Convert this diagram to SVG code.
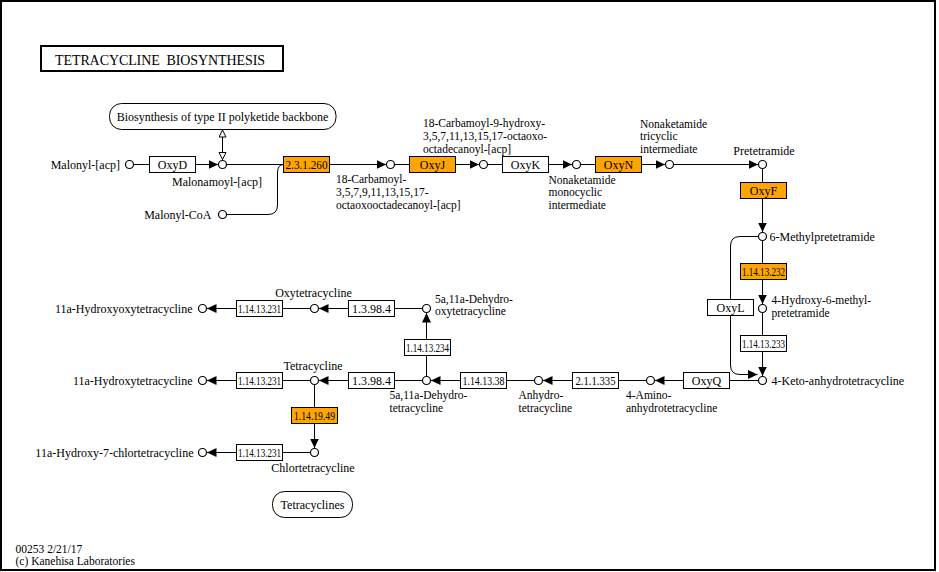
<svg xmlns="http://www.w3.org/2000/svg" width="939" height="572" viewBox="0 0 939 572">
<style>
text{font-family:"Liberation Serif","Times New Roman",serif;font-size:12px;fill:#000}
text.ml{font-size:11.5px}
.m{text-anchor:middle}
.e{text-anchor:end}
.box{fill:#fff;stroke:#000;stroke-width:1}
.hl{fill:#ffa500;stroke:#000;stroke-width:1}
.cpd{fill:#fff;stroke:#000;stroke-width:1.2}
.ln{fill:none;stroke:#000;stroke-width:1}
.arr{marker-end:url(#ah)}
.map{fill:#fff;stroke:#000;stroke-width:1}
</style>
<defs>
<marker id="ah" markerUnits="userSpaceOnUse" markerWidth="11" markerHeight="10" refX="9.5" refY="4.5" orient="auto"><path d="M0,0 L9.5,4.5 L0,9 z" fill="#000"/></marker>
<marker id="oh" markerUnits="userSpaceOnUse" markerWidth="10" markerHeight="10" refX="7.5" refY="4" orient="auto-start-reverse"><path d="M0.5,0.5 L7.5,4 L0.5,7.5 z" fill="#fff" stroke="#000" stroke-width="1"/></marker>
</defs>
<rect x="1" y="1" width="934" height="569" fill="#fff" stroke="#000" stroke-width="2"/>
<g id="title">
<rect x="41" y="46" width="242" height="25" fill="#fff" stroke="#000" stroke-width="2"/>
<text x="55" y="65" xml:space="preserve" style="font-size:14px;white-space:pre" textLength="210" lengthAdjust="spacing">TETRACYCLINE  BIOSYNTHESIS</text>
</g>
<g id="connectors">
<line class="ln" x1="133.5" y1="164.5" x2="149.5" y2="164.5"/>
<line class="ln arr" x1="195.5" y1="164.5" x2="218" y2="164.5"/>
<line class="ln" x1="222.5" y1="130" x2="222.5" y2="159.5" marker-start="url(#oh)" marker-end="url(#oh)"/>
<line class="ln" x1="226.5" y1="164.5" x2="283.5" y2="164.5"/>
<path class="ln" d="M226.5,214.5 H268 Q277.5,214.5 277.5,205 V173 Q277.5,164.5 283.5,164.5"/>
<line class="ln arr" x1="329.5" y1="164.5" x2="386" y2="164.5"/>
<line class="ln" x1="394.5" y1="164.5" x2="409.5" y2="164.5"/>
<line class="ln arr" x1="455.5" y1="164.5" x2="479" y2="164.5"/>
<line class="ln" x1="487.5" y1="164.5" x2="502.5" y2="164.5"/>
<line class="ln arr" x1="548.5" y1="164.5" x2="572" y2="164.5"/>
<line class="ln" x1="580.5" y1="164.5" x2="595.5" y2="164.5"/>
<line class="ln arr" x1="641.5" y1="164.5" x2="665" y2="164.5"/>
<line class="ln arr" x1="673.5" y1="164.5" x2="758" y2="164.5"/>
<line class="ln" x1="762.5" y1="168.5" x2="762.5" y2="182.5"/>
<line class="ln arr" x1="762.5" y1="198.5" x2="762.5" y2="232"/>
<line class="ln" x1="762.5" y1="240.5" x2="762.5" y2="263.5"/>
<line class="ln arr" x1="762.5" y1="279.5" x2="762.5" y2="304"/>
<line class="ln" x1="762.5" y1="312.5" x2="762.5" y2="335.5"/>
<line class="ln arr" x1="762.5" y1="351.5" x2="762.5" y2="376"/>
<path class="ln" d="M758.5,236.5 H740 Q730.5,236.5 730.5,246 V299.5"/>
<path class="ln arr" d="M730.5,315.5 V365 Q730.5,374.5 740,374.5 H757.5"/>
<line class="ln" x1="758.5" y1="380.5" x2="729.5" y2="380.5"/>
<line class="ln arr" x1="683.5" y1="380.5" x2="655" y2="380.5"/>
<line class="ln" x1="646.5" y1="380.5" x2="618.5" y2="380.5"/>
<line class="ln arr" x1="572.5" y1="380.5" x2="543" y2="380.5"/>
<line class="ln" x1="534.5" y1="380.5" x2="506.5" y2="380.5"/>
<line class="ln arr" x1="460.5" y1="380.5" x2="431" y2="380.5"/>
<line class="ln" x1="426.5" y1="376.5" x2="426.5" y2="355.5"/>
<line class="ln arr" x1="426.5" y1="339.5" x2="426.5" y2="313"/>
<line class="ln" x1="422.5" y1="308.5" x2="394.5" y2="308.5"/>
<line class="ln arr" x1="348.5" y1="308.5" x2="319" y2="308.5"/>
<line class="ln" x1="310.5" y1="308.5" x2="282.5" y2="308.5"/>
<line class="ln arr" x1="236.5" y1="308.5" x2="207" y2="308.5"/>
<line class="ln" x1="422.5" y1="380.5" x2="394.5" y2="380.5"/>
<line class="ln arr" x1="348.5" y1="380.5" x2="319" y2="380.5"/>
<line class="ln" x1="310.5" y1="380.5" x2="282.5" y2="380.5"/>
<line class="ln arr" x1="236.5" y1="380.5" x2="207" y2="380.5"/>
<line class="ln" x1="314.5" y1="384.5" x2="314.5" y2="407.5"/>
<line class="ln arr" x1="314.5" y1="423.5" x2="314.5" y2="448"/>
<line class="ln" x1="310.5" y1="452.5" x2="282.5" y2="452.5"/>
<line class="ln arr" x1="236.5" y1="452.5" x2="207" y2="452.5"/>
</g>
<g id="polyketide-map"><rect class="map" x="109.5" y="103.5" width="226.5" height="26" rx="12"/><text class="m" x="222.5" y="120.5">Biosynthesis of type II polyketide backbone</text></g>
<g id="malonyl-acp"><circle class="cpd" cx="129.5" cy="164.5" r="4"/><text class="e" x="120" y="168.5">Malonyl-[acp]</text></g>
<g id="oxyD"><rect class="box" x="149.5" y="156.5" width="46" height="16"/><text class="m" x="172.5" y="169">OxyD</text></g>
<g id="malonamoyl-acp"><circle class="cpd" cx="222.5" cy="164.5" r="4"/><text x="172" y="185.5">Malonamoyl-[acp]</text></g>
<g id="malonyl-coa"><circle class="cpd" cx="222.5" cy="214.5" r="4"/><text class="e" x="211.5" y="218.5">Malonyl-CoA</text></g>
<g id="ec-2.3.1.260"><rect class="hl" x="283.5" y="156.5" width="46" height="16"/><text class="m" x="306.5" y="169" textLength="42" lengthAdjust="spacingAndGlyphs">2.3.1.260</text></g>
<g id="octaoxooctadecanoyl-acp"><circle class="cpd" cx="390.5" cy="164.5" r="4"/><text class="ml" x="336" y="183">18-Carbamoyl-<tspan x="336" dy="12.8">3,5,7,9,11,13,15,17-</tspan><tspan x="336" dy="12.8">octaoxooctadecanoyl-[acp]</tspan></text></g>
<g id="oxyJ"><rect class="hl" x="409.5" y="156.5" width="46" height="16"/><text class="m" x="432.5" y="169">OxyJ</text></g>
<g id="hydroxy-octaoxo-acp"><circle class="cpd" cx="483.5" cy="164.5" r="4"/><text class="ml" x="423" y="127">18-Carbamoyl-9-hydroxy-<tspan x="423" dy="12.8">3,5,7,11,13,15,17-octaoxo-</tspan><tspan x="423" dy="12.8">octadecanoyl-[acp]</tspan></text></g>
<g id="oxyK"><rect class="box" x="502.5" y="156.5" width="46" height="16"/><text class="m" x="525.5" y="169">OxyK</text></g>
<g id="monocyclic"><circle class="cpd" cx="576.5" cy="164.5" r="4"/><text class="ml" x="548.5" y="183.5">Nonaketamide<tspan x="548.5" dy="12.8">monocyclic</tspan><tspan x="548.5" dy="12.8">intermediate</tspan></text></g>
<g id="oxyN"><rect class="hl" x="595.5" y="156.5" width="46" height="16"/><text class="m" x="618.5" y="169">OxyN</text></g>
<g id="tricyclic"><circle class="cpd" cx="669.5" cy="164.5" r="4"/><text class="ml" x="640" y="127.5">Nonaketamide<tspan x="640" dy="12.8">tricyclic</tspan><tspan x="640" dy="12.8">intermediate</tspan></text></g>
<g id="pretetramide"><circle class="cpd" cx="762.5" cy="164.5" r="4"/><text class="m" x="764" y="154.5">Pretetramide</text></g>
<g id="oxyF"><rect class="hl" x="740.5" y="182.5" width="46" height="16"/><text class="m" x="763.5" y="195">OxyF</text></g>
<g id="methylpretetramide"><circle class="cpd" cx="762.5" cy="236.5" r="4"/><text x="769.5" y="240.5">6-Methylpretetramide</text></g>
<g id="ec-1.14.13.232"><rect class="hl" x="740.5" y="263.5" width="46" height="16"/><text class="m" x="763.5" y="276" textLength="43" lengthAdjust="spacingAndGlyphs">1.14.13.232</text></g>
<g id="hydroxy-methylpretetramide"><circle class="cpd" cx="762.5" cy="308.5" r="4"/><text class="ml" x="771.5" y="304">4-Hydroxy-6-methyl-<tspan x="771.5" dy="12.8">pretetramide</tspan></text></g>
<g id="ec-1.14.13.233"><rect class="box" x="740.5" y="335.5" width="46" height="16"/><text class="m" x="763.5" y="348" textLength="43" lengthAdjust="spacingAndGlyphs">1.14.13.233</text></g>
<g id="oxyL"><rect class="box" x="707.5" y="299.5" width="46" height="16"/><text class="m" x="730.5" y="312">OxyL</text></g>
<g id="keto-anhydrotetracycline"><circle class="cpd" cx="762.5" cy="380.5" r="4"/><text x="771.5" y="384.5">4-Keto-anhydrotetracycline</text></g>
<g id="oxyQ"><rect class="box" x="683.5" y="372.5" width="46" height="16"/><text class="m" x="706.5" y="385">OxyQ</text></g>
<g id="amino-anhydrotetracycline"><circle class="cpd" cx="650.5" cy="380.5" r="4"/><text class="ml" x="626" y="399">4-Amino-<tspan x="626" dy="12.8">anhydrotetracycline</tspan></text></g>
<g id="ec-2.1.1.335"><rect class="box" x="572.5" y="372.5" width="46" height="16"/><text class="m" x="595.5" y="385" textLength="40" lengthAdjust="spacingAndGlyphs">2.1.1.335</text></g>
<g id="anhydrotetracycline"><circle class="cpd" cx="538.5" cy="380.5" r="4"/><text class="ml" x="518.5" y="399">Anhydro-<tspan x="518.5" dy="12.8">tetracycline</tspan></text></g>
<g id="ec-1.14.13.38"><rect class="box" x="460.5" y="372.5" width="46" height="16"/><text class="m" x="483.5" y="385" textLength="42" lengthAdjust="spacingAndGlyphs">1.14.13.38</text></g>
<g id="dehydrotetracycline"><circle class="cpd" cx="426.5" cy="380.5" r="4"/><text class="ml" x="389.5" y="399">5a,11a-Dehydro-<tspan x="389.5" dy="12.8">tetracycline</tspan></text></g>
<g id="ec-1.14.13.234"><rect class="box" x="404.5" y="339.5" width="46" height="16"/><text class="m" x="427.5" y="352" textLength="43" lengthAdjust="spacingAndGlyphs">1.14.13.234</text></g>
<g id="dehydrooxytetracycline"><circle class="cpd" cx="426.5" cy="308.5" r="4"/><text class="ml" x="435" y="302.5">5a,11a-Dehydro-<tspan x="435" dy="12.8">oxytetracycline</tspan></text></g>
<g id="ec-1.3.98.4-a"><rect class="box" x="348.5" y="300.5" width="46" height="16"/><text class="m" x="371.5" y="313">1.3.98.4</text></g>
<g id="oxytetracycline"><circle class="cpd" cx="314.5" cy="308.5" r="4"/><text class="m" x="313.5" y="297">Oxytetracycline</text></g>
<g id="ec-1.14.13.231-a"><rect class="box" x="236.5" y="300.5" width="46" height="16"/><text class="m" x="259.5" y="313" textLength="43" lengthAdjust="spacingAndGlyphs">1.14.13.231</text></g>
<g id="hydroxyoxytetracycline"><circle class="cpd" cx="202.5" cy="308.5" r="4"/><text class="e" x="192.5" y="312.5">11a-Hydroxyoxytetracycline</text></g>
<g id="ec-1.3.98.4-b"><rect class="box" x="348.5" y="372.5" width="46" height="16"/><text class="m" x="371.5" y="385">1.3.98.4</text></g>
<g id="tetracycline"><circle class="cpd" cx="314.5" cy="380.5" r="4"/><text class="m" x="313" y="369.5">Tetracycline</text></g>
<g id="ec-1.14.13.231-b"><rect class="box" x="236.5" y="372.5" width="46" height="16"/><text class="m" x="259.5" y="385" textLength="43" lengthAdjust="spacingAndGlyphs">1.14.13.231</text></g>
<g id="hydroxytetracycline"><circle class="cpd" cx="202.5" cy="380.5" r="4"/><text class="e" x="192.5" y="384.5">11a-Hydroxytetracycline</text></g>
<g id="ec-1.14.19.49"><rect class="hl" x="291.5" y="407.5" width="46" height="16"/><text class="m" x="314.5" y="420" textLength="41" lengthAdjust="spacingAndGlyphs">1.14.19.49</text></g>
<g id="chlortetracycline"><circle class="cpd" cx="314.5" cy="452.5" r="4"/><text class="m" x="313" y="472">Chlortetracycline</text></g>
<g id="ec-1.14.13.231-c"><rect class="box" x="236.5" y="444.5" width="46" height="16"/><text class="m" x="259.5" y="457" textLength="43" lengthAdjust="spacingAndGlyphs">1.14.13.231</text></g>
<g id="hydroxy-chlortetracycline"><circle class="cpd" cx="202.5" cy="452.5" r="4"/><text class="e" x="193.5" y="456.5">11a-Hydroxy-7-chlortetracycline</text></g>
<g id="tetracyclines-map"><rect class="map" x="272.5" y="491.5" width="80" height="26" rx="12"/><text class="m" x="312.5" y="508.5">Tetracyclines</text></g>
<g id="footer"><text class="ml" x="15.5" y="552.5">00253 2/21/17<tspan x="15.5" dy="12.8">(c) Kanehisa Laboratories</tspan></text></g>
</svg>
